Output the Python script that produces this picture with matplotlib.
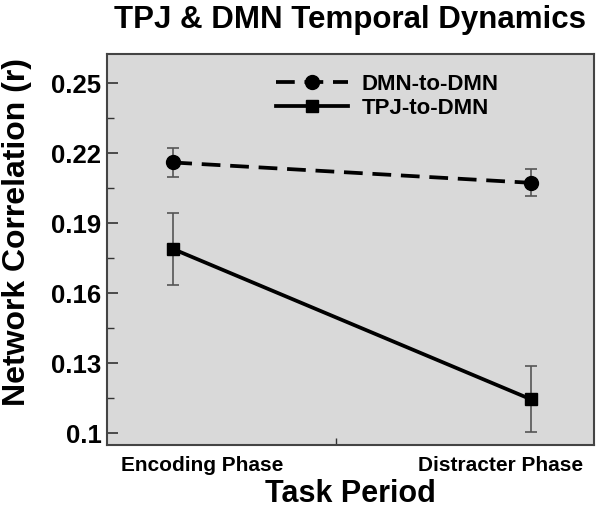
import matplotlib
matplotlib.use("Agg")
import matplotlib.pyplot as plt
from matplotlib.transforms import ScaledTranslation

plt.rcParams['font.family'] = ['Liberation Sans', 'DejaVu Sans']
plt.rcParams['font.weight'] = 'bold'

categories = ["Encoding Phase", "Distracter Phase"]
dmn_values = [0.2161, 0.2074]
dmn_err = [0.0062, 0.0057]
tpj_values = [0.1790, 0.1147]
tpj_err = [0.0156, 0.0142]
series_labels = ["DMN-to-DMN", "TPJ-to-DMN"]
yticks = [0.1, 0.13, 0.16, 0.19, 0.22, 0.25]
ytick_labels = ["0.1", "0.13", "0.16", "0.19", "0.22", "0.25"]

fig = plt.figure(figsize=(6.01, 5.14), dpi=100)
ax = fig.add_axes([0.178, 0.134, 0.81, 0.761])
ax.set_facecolor('#d9d9d9')

x = list(range(len(categories)))

ax.errorbar(x, dmn_values, yerr=dmn_err, fmt='none', ecolor='#555555',
            elinewidth=1.2, capsize=4.3, capthick=1.2, zorder=2)
ax.errorbar(x, tpj_values, yerr=tpj_err, fmt='none', ecolor='#555555',
            elinewidth=1.2, capsize=4.3, capthick=1.2, zorder=2)

l1, = ax.plot(x, dmn_values, color='black', lw=2.7, dashes=(5, 2.6),
              marker='o', markersize=10, zorder=3, label=series_labels[0])
l2, = ax.plot(x, tpj_values, color='black', lw=2.7, linestyle='-',
              marker='s', markersize=9, zorder=3, label=series_labels[1])

ax.set_xlim(-0.1855, 1.177)
ax.set_ylim(0.095, 0.2626)

ax.set_yticks(yticks)
ax.set_yticklabels(ytick_labels, fontsize=18.5, fontweight='bold')
ax.set_yticks([0.115, 0.145, 0.175, 0.205, 0.235], minor=True)
ax.tick_params(axis='y', which='major', direction='in', length=8, width=1.2,
               color='#333333', pad=4)
ax.tick_params(axis='y', which='minor', direction='in', length=5, width=1.0,
               color='#333333')

ax.set_xticks(x)
ax.set_xticklabels(categories, fontsize=15, fontweight='bold')
ax.set_xticks([0.455], minor=True)
ax.tick_params(axis='x', which='major', length=0, pad=8)
ax.tick_params(axis='x', which='minor', direction='in', length=5, width=1.0,
               color='#333333')
offsets = [29, -30]
for lab, dx in zip(ax.get_xticklabels(), offsets):
    lab.set_transform(lab.get_transform() + ScaledTranslation(dx / 100, 0, fig.dpi_scale_trans))

for s in ax.spines.values():
    s.set_linewidth(1.5)
    s.set_color('#444444')

ax.set_xlabel("Task Period", fontsize=22, fontweight='bold', labelpad=3)
ax.set_ylabel("Network Correlation (r)", fontsize=23, fontweight='bold')
ax.yaxis.set_label_coords(-0.154, 0.545)
ax.set_title("TPJ & DMN Temporal Dynamics", fontsize=22.5, fontweight='bold', pad=19)

ax.legend(handles=[l1, l2], loc='upper left', bbox_to_anchor=(0.347, 0.95),
          frameon=False, handlelength=3.25, handletextpad=0.6,
          labelspacing=0.15, borderpad=0, borderaxespad=0, numpoints=1,
          prop={'weight': 'bold', 'size': 16})

fig.savefig("out.png", dpi=100)
